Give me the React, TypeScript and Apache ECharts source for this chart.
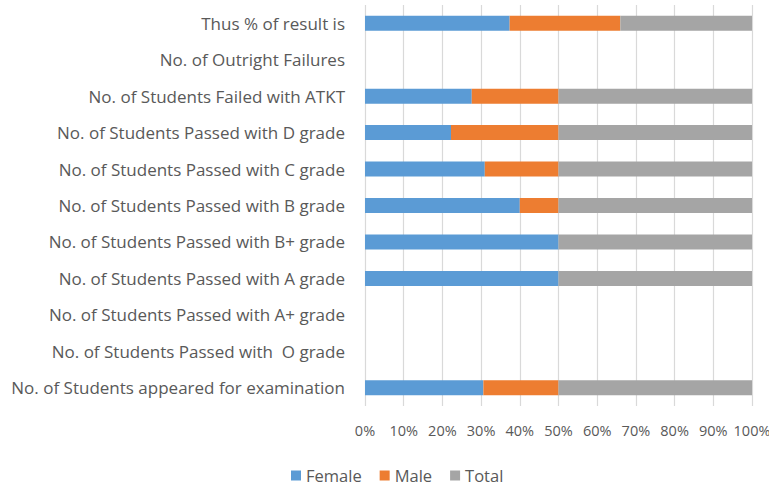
import React, { useEffect, useRef } from "react";
import * as echarts from "echarts";

const categories: string[] = [
  "No. of Students appeared for examination",
  "No. of Students Passed with  O grade",
  "No. of Students Passed with A+ grade",
  "No. of Students Passed with A grade",
  "No. of Students Passed with B+ grade",
  "No. of Students Passed with B grade",
  "No. of Students Passed with C grade",
  "No. of Students Passed with D grade",
  "No. of Students Failed with ATKT",
  "No. of Outright Failures",
  "Thus % of result is",
];

const female: number[] = [52, 0, 0, 2, 5, 8, 13, 8, 16, 0, 79.2];
const male: number[] = [33, 0, 0, 0, 0, 2, 8, 10, 13, 0, 60.6];
const total: number[] = [85, 0, 0, 2, 5, 10, 21, 18, 29, 0, 72.1];

const seriesNames = ["Female", "Male", "Total"];
const colors = ["#5B9BD5", "#ED7D31", "#A5A5A5"];
const xTicks = [0, 10, 20, 30, 40, 50, 60, 70, 80, 90, 100];

const FONT = "'Open Sans', 'Noto Sans', sans-serif";

export default function App() {
  const ref = useRef<HTMLDivElement>(null);
  useEffect(() => {
    if (!ref.current) return;
    const chart = echarts.init(ref.current, undefined, { renderer: "svg" });
    const raw = [female, male, total];
    const sums = categories.map((_, i) => female[i] + male[i] + total[i]);
    const pct = raw.map((arr) => arr.map((v, i) => (sums[i] > 0 ? (v / sums[i]) * 100 : 0)));
    chart.setOption({
      animation: false,
      textStyle: { fontFamily: FONT },
      grid: { left: 365, right: 17, top: 5, bottom: 82, containLabel: false, outerBoundsMode: "none" },
      legend: {
        data: seriesNames,
        top: 462,
        left: 286,
        icon: "rect",
        itemWidth: 10,
        itemHeight: 10,
        itemGap: 18,
        textStyle: { fontSize: 16.5, color: "#595959", fontFamily: FONT },
      },
      xAxis: {
        type: "value",
        min: xTicks[0],
        max: xTicks[xTicks.length - 1],
        interval: 10,
        axisLine: { show: false },
        axisTick: { show: false },
        axisLabel: {
          formatter: "{value}%",
          fontSize: 14.5,
          color: "#595959",
          margin: 17,
          fontFamily: FONT,
          showMaxLabel: true,
          showMinLabel: true,
        },
        splitLine: { show: true, lineStyle: { color: "#D9D9D9", width: 1.2 } },
      },
      yAxis: {
        type: "category",
        data: categories,
        axisLine: { show: false },
        axisTick: { show: false },
        axisLabel: { fontSize: 17, color: "#595959", margin: 20, fontFamily: FONT },
      },
      series: seriesNames.map((name, k) => ({
        name,
        type: "bar",
        stack: "all",
        barWidth: 15,
        itemStyle: { color: colors[k] },
        data: pct[k],
      })),
    });
    return () => chart.dispose();
  }, []);
  return <div ref={ref} style={{ width: 769, height: 488, position: "absolute", left: 0, top: 0 }} />;
}
